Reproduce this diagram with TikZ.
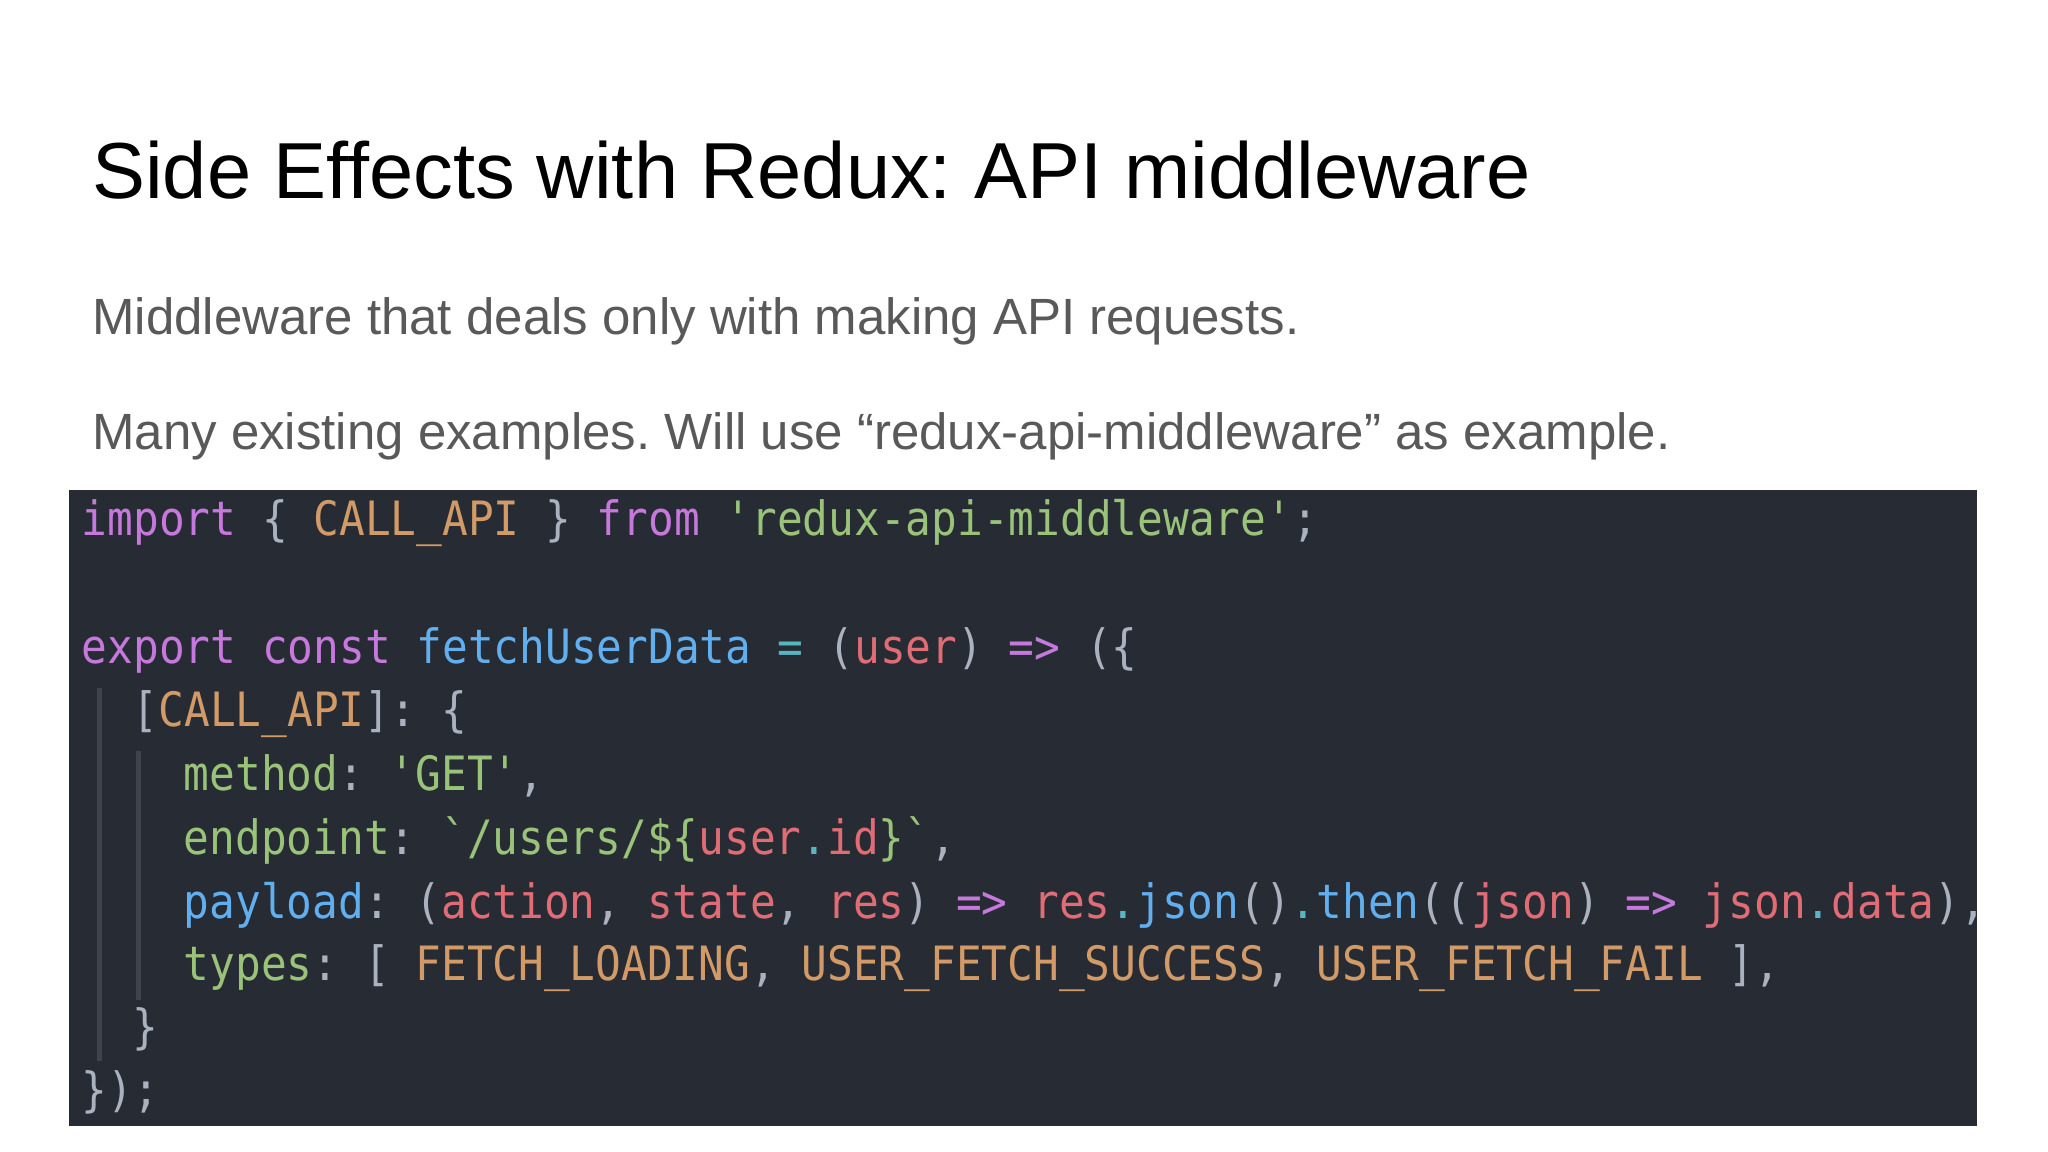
\documentclass[tikz,border=0pt]{standalone}
\usepackage{fontspec}
\setmainfont{Liberation Sans}
\setmonofont[FakeStretch=0.904]{DejaVu Sans Mono}
\frenchspacing
\definecolor{bgc}{HTML}{272B33}
\definecolor{cK}{HTML}{C678DD}
\definecolor{cO}{HTML}{D19A66}
\definecolor{cG}{HTML}{98C379}
\definecolor{cB}{HTML}{61AFEF}
\definecolor{cR}{HTML}{E06C75}
\definecolor{cC}{HTML}{56B6C2}
\definecolor{cW}{HTML}{ABB2BF}
\definecolor{sub}{HTML}{595959}
\definecolor{guide}{HTML}{3E434C}
\newcommand{\K}[1]{\textcolor{cK}{#1}}
\newcommand{\Or}[1]{\textcolor{cO}{#1}}
\newcommand{\Gr}[1]{\textcolor{cG}{#1}}
\newcommand{\Bl}[1]{\textcolor{cB}{#1}}
\newcommand{\Rd}[1]{\textcolor{cR}{#1}}
\newcommand{\Cy}[1]{\textcolor{cC}{#1}}
\newcommand{\Wh}[1]{\textcolor{cW}{#1}}
\begin{document}
\begin{tikzpicture}[x=0.01cm,y=-0.01cm,
  code/.style={anchor=base west,inner sep=0,font=\ttfamily\fontsize{10.3pt}{12pt}\selectfont,text=cW},
  subt/.style={anchor=base west,inner sep=0,text=sub,font=\fontsize{11.1pt}{13pt}\selectfont}]
\useasboundingbox[fill=white] (0,0) rectangle (1568,882);
\node[anchor=base west,inner sep=0,font=\fontsize{17.3pt}{21pt}\selectfont] (title) at (70,152) {Side Effects with Redux: API middleware};
\node[subt] (s1) at (70,256) {Middleware that deals only with making API requests.};
\node[subt] (s2) at (70,344) {Many existing examples. Will use “redux-api-middleware” as example.};
\fill[bgc] (53,375) rectangle (1514,862);
\draw[guide,line width=1.2pt] (76,527) -- (76,812);
\draw[guide,line width=1.2pt] (106,575) -- (106,766);
\node[code] (l1) at (62,410) {\K{import} \Wh{\{} \Or{CALL\_API} \Wh{\}} \K{from} \Gr{'redux-api-middleware'}\Wh{;}};
\node[code] (l3) at (62,508) {\K{export} \K{const} \Bl{fetchUserData} \Cy{=} \Wh{(}\Rd{user}\Wh{)} \K{=>} \Wh{(\{}};
\node[code] (l4) at (101,556) {\Wh{[}\Or{CALL\_API}\Wh{]:} \Wh{\{}};
\node[code] (l5) at (140,605) {\Gr{method}\Wh{:} \Gr{'GET'}\Wh{,}};
\node[code] (l6) at (140,654) {\Gr{endpoint}\Wh{:} \Gr{`/users/\$\{}\Rd{user}\Cy{.}\Rd{id}\Gr{\}`}\Wh{,}};
\node[code] (l7) at (140,703) {\Bl{payload}\Wh{:} \Wh{(}\Rd{action}\Wh{,} \Rd{state}\Wh{,} \Rd{res}\Wh{)} \K{=>} \Rd{res}\Cy{.}\Bl{json}\Wh{()}\Cy{.}\Bl{then}\Wh{((}\Rd{json}\Wh{)} \K{=>} \Rd{json}\Cy{.}\Rd{data}\Wh{),}};
\node[code] (l8) at (140,751) {\Gr{types}\Wh{:} \Wh{[} \Or{FETCH\_LOADING}\Wh{,} \Or{USER\_FETCH\_SUCCESS}\Wh{,} \Or{USER\_FETCH\_FAIL} \Wh{],}};
\node[code] (l9) at (101,799) {\Wh{\}}};
\node[code] (l10) at (62,847) {\Wh{\});}};
\end{tikzpicture}
\end{document}
